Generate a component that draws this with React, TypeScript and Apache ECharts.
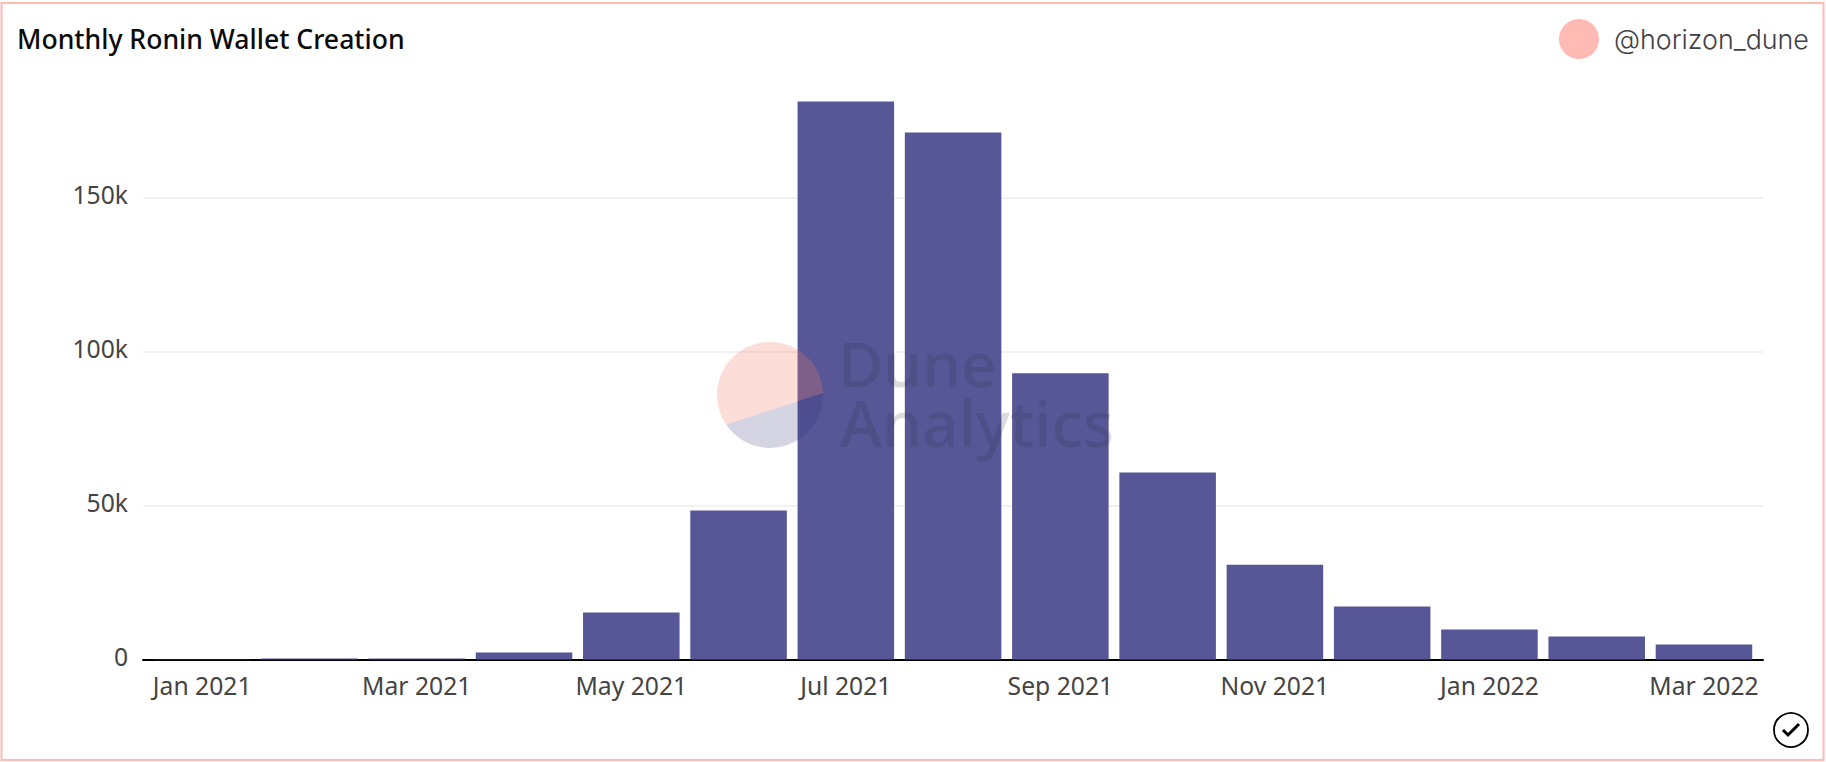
import * as echarts from "echarts";
import { useEffect, useRef } from "react";

const months = [
  "Jan 2021", "Feb 2021", "Mar 2021", "Apr 2021", "May 2021", "Jun 2021", "Jul 2021", "Aug 2021",
  "Sep 2021", "Oct 2021", "Nov 2021", "Dec 2021", "Jan 2022", "Feb 2022", "Mar 2022"
];
const wallets = [
  100, 300, 300, 2300, 15300, 48400, 181200, 171100, 92900, 60700, 30800, 17200, 9700, 7500, 4900
];

const FONT = "'Noto Sans', sans-serif";
const LABEL_COLOR = "#444444";
const BAR_COLOR = "#575798";
const Y_MAX = 190000;

// grid edges: the bars sit a little inside the gridlines and the baseline
const GRID_TOP = 74.3;
const GRID_BOTTOM = 102.5;

echarts.graphic.registerShape(
  "wmTop",
  echarts.graphic.extendPath("M726.1 424.6A53 53 0 1 1 823 393Z", {})
);
echarts.graphic.registerShape(
  "wmBottom",
  echarts.graphic.extendPath("M726.1 424.6A53 53 0 0 0 823 393Z", {})
);

export default function App() {
  const ref = useRef<HTMLDivElement | null>(null);

  useEffect(() => {
    if (!ref.current) {
      return;
    }
    document.body.style.margin = "0";

    const chart = echarts.init(ref.current, undefined, { renderer: "svg" });
    chart.setOption({
      animation: false,
      backgroundColor: "#ffffff",
      grid: [
        { left: 143, right: 63, top: GRID_TOP, bottom: GRID_BOTTOM },
        { left: 148.6, right: 68.4, top: GRID_TOP, bottom: GRID_BOTTOM }
      ],
      xAxis: [
        {
          type: "category",
          data: months,
          gridIndex: 0,
          axisLine: { lineStyle: { color: "#000000", width: 2 } },
          axisTick: { show: false },
          axisLabel: { show: false }
        },
        {
          type: "category",
          data: months,
          gridIndex: 1,
          axisLine: { show: false },
          axisTick: { show: false },
          axisLabel: {
            interval: 1,
            margin: 13,
            color: LABEL_COLOR,
            fontFamily: FONT,
            fontSize: 24.7
          }
        }
      ],
      yAxis: [
        {
          type: "value",
          gridIndex: 0,
          min: 0,
          max: Y_MAX,
          interval: 50000,
          axisLine: { show: false },
          axisTick: { show: false },
          splitLine: { showMaxLine: false, lineStyle: { color: "#f1f1f1", width: 2 } },
          axisLabel: {
            showMaxLabel: false,
            margin: 15,
            // labels sit slightly above their gridline
            verticalAlign: "bottom",
            lineHeight: 6,
            color: LABEL_COLOR,
            fontFamily: FONT,
            fontSize: 24.7,
            formatter: (value: number) => (value === 0 ? "0" : `${value / 1000}k`)
          }
        },
        {
          type: "value",
          gridIndex: 1,
          min: 0,
          max: Y_MAX,
          show: false
        }
      ],
      series: [
        {
          type: "bar",
          xAxisIndex: 1,
          yAxisIndex: 1,
          data: wallets,
          barWidth: "90%",
          itemStyle: { color: BAR_COLOR }
        }
      ],
      graphic: [
        {
          type: "rect",
          silent: true,
          z: 50,
          shape: { x: 1.5, y: 3, width: 1822, height: 757 },
          style: { fill: "none", stroke: "#ffbab3", lineWidth: 2 }
        },
        {
          type: "text",
          z: 50,
          x: 17,
          y: 39,
          style: {
            text: "Monthly Ronin Wallet Creation",
            fill: "#0a0a0a",
            font: `500 26.6px ${FONT}`,
            verticalAlign: "middle"
          }
        },
        {
          type: "circle",
          z: 50,
          shape: { cx: 1579, cy: 39, r: 20 },
          style: { fill: "#ffbab3" }
        },
        {
          type: "text",
          z: 50,
          x: 1614,
          y: 39,
          style: {
            text: "@horizon_dune",
            fill: "#3f3f46",
            font: "300 26.8px Inter, sans-serif",
            verticalAlign: "middle"
          }
        },
        // Dune Analytics watermark, over the bars
        { type: "wmTop", z: 60, silent: true, style: { fill: "#f3765f", opacity: 0.25 } },
        { type: "wmBottom", z: 60, silent: true, style: { fill: "#282873", opacity: 0.2 } },
        {
          type: "text",
          z: 60,
          x: 838,
          y: 362.5,
          silent: true,
          style: {
            text: "Dune",
            fill: "#2b2b33",
            opacity: 0.17,
            font: `500 62px ${FONT}`,
            lineHeight: 56,
            verticalAlign: "middle"
          }
        },
        {
          type: "text",
          z: 60,
          x: 840,
          y: 422.5,
          silent: true,
          style: {
            text: "Analytics",
            fill: "#2b2b33",
            opacity: 0.17,
            font: `500 64px ${FONT}`,
            lineHeight: 56,
            verticalAlign: "middle"
          }
        },
        // check mark bottom right
        {
          type: "circle",
          z: 50,
          shape: { cx: 1791, cy: 730, r: 17 },
          style: { fill: "none", stroke: "#000000", lineWidth: 1.8 }
        },
        {
          type: "polyline",
          z: 50,
          shape: { points: [[1783, 730], [1788, 735], [1799, 724]] },
          style: { fill: "none", stroke: "#000000", lineWidth: 3 }
        }
      ]
    });

    return () => {
      chart.dispose();
    };
  }, []);

  return <div ref={ref} style={{ width: 1826, height: 762 }} />;
}
